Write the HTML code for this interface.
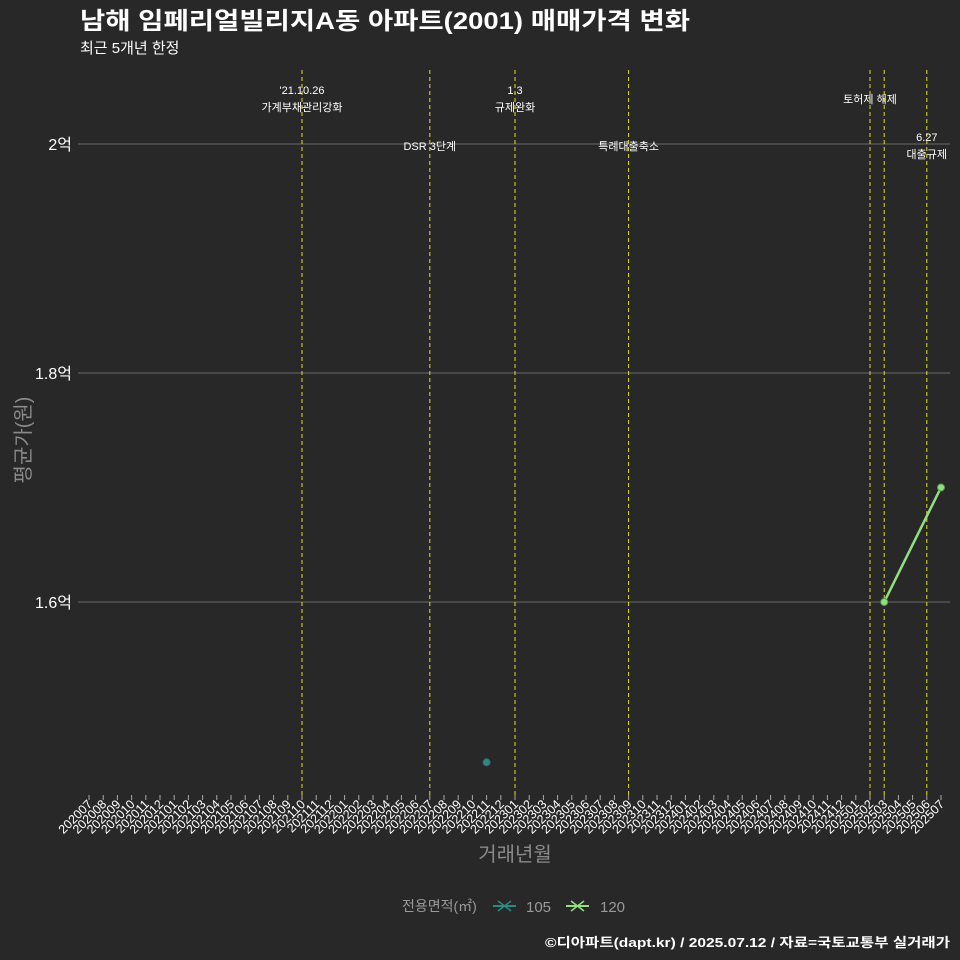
<!DOCTYPE html>
<html><head><meta charset="utf-8">
<style>
html,body{margin:0;background:#282828;overflow:hidden;width:960px;height:960px;}
svg{display:block;}
svg text{font-family:"Liberation Sans","Noto Sans CJK KR",sans-serif;}
</style></head>
<body>
<svg id="chart" width="960" height="960" xmlns="http://www.w3.org/2000/svg">
<rect width="960" height="960" fill="#282828"/>
<text x="80" y="29" font-size="24" font-weight="bold" fill="#ffffff" textLength="610" lengthAdjust="spacingAndGlyphs">남해 임페리얼빌리지A동 아파트(2001) 매매가격 변화</text>
<text x="80" y="53" font-size="15" fill="#ffffff">최근 5개년 한정</text>
<g id="grid"></g>
<g id="vlines"></g>
<g id="series"></g>
<g id="xaxis"></g>
<text x="30" y="440" font-size="20" fill="#8a8a8a" text-anchor="middle" transform="rotate(-90 30 440)">평균가(원)</text>
<text x="515" y="861" font-size="20" fill="#8a8a8a" text-anchor="middle">거래년월</text>
<g>
<text x="402" y="911" font-size="14" fill="#9a9a9a">전용면적(㎡)</text>
<g>
<line x1="493" y1="906" x2="516" y2="906" stroke="#2a8a85" stroke-width="2"/>
<path d="M498 901L511 911M498 911L511 901" stroke="#2a8a85" stroke-width="1.5"/>
<text x="526" y="912" font-size="15" fill="#9a9a9a">105</text></g>
<g>
<line x1="566" y1="906" x2="589" y2="906" stroke="#90e080" stroke-width="2"/>
<path d="M571 901L584 911M571 911L584 901" stroke="#90e080" stroke-width="1.5"/>
<text x="600" y="912" font-size="15" fill="#9a9a9a">120</text></g>
</g>
<text x="950" y="947" font-size="13" font-weight="bold" fill="#ffffff" text-anchor="end" textLength="405" lengthAdjust="spacingAndGlyphs">©디아파트(dapt.kr) / 2025.07.12 / 자료=국토교통부 실거래가</text>
</svg>
<script>
const months=[];
for(let y=2020;y<=2025;y++)for(let m=1;m<=12;m++){const k=y*100+m;if(k>=202007&&k<=202507)months.push(String(k));}
const yTicks=[1.6,1.8,2.0];
const yTickLabels=["1.6억","1.8억","2억"];
const s105Months=["202211"];
const s105Values=[1.46];
const s120Months=["202503","202507"];
const s120Values=[1.6,1.7];
const eventMonths=["202110","202207","202301","202309","202502","202503","202506"];
const eventLabels=[["'21.10.26","가계부채관리강화"],["DSR 3단계"],["1.3","규제완화"],["특례대출축소"],["토허제 해제"],[],["6.27","대출규제"]];
const eventLabelY=[94,150,94,150,103,0,141];

const NS="http://www.w3.org/2000/svg";
const x=m=>89+months.indexOf(m)*14.2;
const y=v=>602-(v-1.6)/0.2*229;
function mk(tag,attrs,parent){const e=document.createElementNS(NS,tag);for(const k in attrs)e.setAttribute(k,attrs[k]);parent.appendChild(e);return e;}
const grid=document.getElementById('grid');
yTicks.forEach((t,i)=>{
 const l=mk('line',{x1:78,x2:950,y1:y(t),y2:y(t),stroke:'#6a6a6a','stroke-width':1},grid);
 
 
 const tx=mk('text',{x:72,y:y(t)+6,'font-size':16,fill:'#ffffff','text-anchor':'end'},grid);
 tx.textContent=yTickLabels[i];
 
 
});
const vl=document.getElementById('vlines');
eventMonths.forEach((m,i)=>{
 const l=mk('line',{x1:x(m),x2:x(m),y1:70,y2:795,stroke:'#e0e020','stroke-width':1,'stroke-dasharray':'4,3'},vl);
 
 
 eventLabels[i].forEach((s,j)=>{
  const t=mk('text',{x:x(m),y:eventLabelY[i]+j*17,'font-size':11,fill:'#ffffff','text-anchor':'middle'},vl);
  t.textContent=s;
  
  
 });
});
const xa=document.getElementById('xaxis');
months.forEach(m=>{
 const tk=mk('line',{x1:x(m),x2:x(m),y1:795,y2:800,stroke:'#aaaaaa'},xa);
 
 
 const t=mk('text',{x:x(m)+4,y:805,'font-size':12.5,fill:'#ffffff','text-anchor':'end',transform:`rotate(-45 ${x(m)+4} 805)`},xa);
 t.textContent=m;
 
 
});
const sg=document.getElementById('series');
const pts=s120Months.map((m,i)=>x(m)+','+y(s120Values[i])).join(' ');
const pl=mk('polyline',{points:pts,fill:'none',stroke:'#90e080','stroke-width':2.5},sg);


s120Months.forEach((m,i)=>{
 const c=mk('circle',{cx:x(m),cy:y(s120Values[i]),r:3.5,fill:'#90e080',stroke:'#5a9a50'},sg);
 
 
});
s105Months.forEach((m,i)=>{
 const c=mk('circle',{cx:x(m),cy:y(s105Values[i]),r:3.5,fill:'#2a8a85',stroke:'#3a6a65'},sg);
 
 
});
</script>
</body></html>
